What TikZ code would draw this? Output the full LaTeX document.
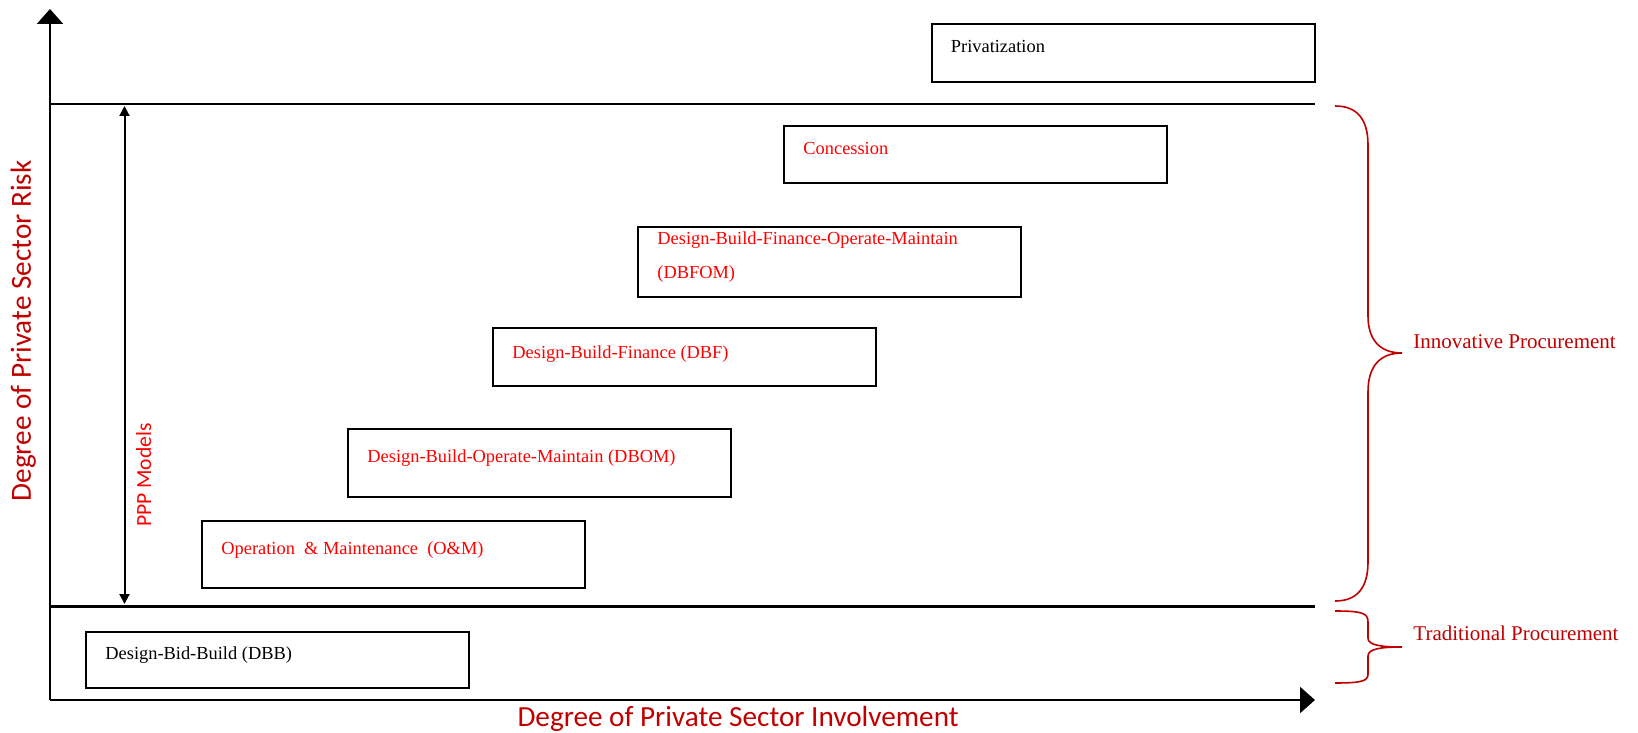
\documentclass[tikz,border=0pt]{standalone}
\usepackage{fontspec}
\setmainfont{Liberation Serif}
\newfontfamily\axisfont{Carlito}
\usetikzlibrary{arrows.meta}
\definecolor{darkred}{HTML}{C00000}
\definecolor{brightred}{HTML}{FF0000}
\begin{document}
\begin{tikzpicture}[x=0.5pt,y=-0.5pt,
  axisline/.style={line width=1.15pt,-{Triangle[length=7.5pt,width=13pt]}},
  bandline/.style={line width=1.15pt},
  pppline/.style={line width=1pt,{Triangle[length=5pt,width=5pt]}-{Triangle[length=5pt,width=5pt]}},
  modelbox/.style={draw,line width=1pt,rectangle,inner sep=0pt,anchor=north west,
    minimum width=191.5pt},
  modeltext/.style={anchor=base west,inner sep=0pt,font=\fontsize{9.2pt}{17pt}\selectfont},
  redtext/.style={modeltext,text=brightred},
  bracepath/.style={draw=darkred,line width=0.8pt},
  bracetext/.style={anchor=base west,inner sep=0pt,text=darkred,font=\fontsize{10.5pt}{12pt}\selectfont},
  axislabel/.style={inner sep=0pt,anchor=base,text=darkred,font=\axisfont\fontsize{14.6pt}{16pt}\selectfont},
  ppplabel/.style={inner sep=0pt,anchor=base,text=brightred,font=\axisfont\fontsize{10.8pt}{12pt}\selectfont}]

\useasboundingbox (0,0) rectangle (1638,733);

% axes and band boundaries
\coordinate (O) at (50,700);
\coordinate (ytip) at (50,9);
\coordinate (xtip) at (1315,700);
\coordinate (topL) at (50,104);
\coordinate (topR) at (1315,104);
\coordinate (midL) at (50,606.5);
\coordinate (midR) at (1315,606.5);
\draw[axisline] (O) -- (ytip);
\draw[axisline] (O) -- (xtip);
\draw[bandline] (topL) -- (topR);
\draw[bandline] (midL) -- (midR);

% PPP span arrow
\coordinate (pppTop) at (124.5,106);
\coordinate (pppBot) at (124.5,604);
\draw[pppline] (pppTop) -- (pppBot);
\node[ppplabel,rotate=90] (ppp) at (151,475) {PPP Models};

% axis titles
\node[axislabel,rotate=90] (risk) at (31,331) {Degree of Private Sector Risk};
\node[axislabel] (involve) at (738,726.5) {Degree of Private Sector Involvement};

% procurement models
\node[modelbox,minimum height=28.75pt] (priv) at (930.5,23.5) {};
\node[modeltext] (privT) at ([shift={(20,29.4)}]priv.north west) {Privatization};

\node[modelbox,minimum height=28.5pt] (conc) at (783,125) {};
\node[redtext] (concT) at ([shift={(20,29.3)}]conc.north west) {Concession};

% two-line label: the base anchor sits on the last line
\node[modelbox,minimum height=34.75pt] (dbfom) at (637,226) {};
\node[redtext,align=left] (dbfomT) at ([shift={(20,52.8)}]dbfom.north west) {Design-Build-Finance-Operate-Maintain\\(DBFOM)};

\node[modelbox,minimum height=28.75pt] (dbf) at (492,327) {};
\node[redtext] (dbfT) at ([shift={(20,31)}]dbf.north west) {Design-Build-Finance (DBF)};

\node[modelbox,minimum height=34pt] (dbom) at (347,428) {};
\node[redtext] (dbomT) at ([shift={(20,34.7)}]dbom.north west) {Design-Build-Operate-Maintain (DBOM)};

\node[modelbox,minimum height=33.3pt] (om) at (201,520) {};
\node[redtext] (omT) at ([shift={(20,34)}]om.north west) {Operation \ \& Maintenance \ (O\&M)};

\node[modelbox,minimum height=28.2pt] (dbb) at (85,631) {};
\node[modeltext] (dbbT) at ([shift={(20,28)}]dbb.north west) {Design-Bid-Build (DBB)};

% braces
\coordinate (b1top) at (1335,106);
\coordinate (b1tip) at (1402,353);
\coordinate (b1bot) at (1335,601);
\draw[bracepath] (b1top) .. controls (1356,106) and (1368,118) .. (1368,145)
  -- (1368,316) .. controls (1368,340) and (1380,353) .. (b1tip)
  .. controls (1380,353) and (1368,366) .. (1368,392)
  -- (1368,562) .. controls (1368,589) and (1356,601) .. (b1bot);
\node[bracetext] (innov) at (1413,348) {Innovative Procurement};

\coordinate (b2top) at (1335,611);
\coordinate (b2tip) at (1402,647);
\coordinate (b2bot) at (1335,683);
\draw[bracepath] (b2top) .. controls (1362,611) and (1368,613) .. (1368,622)
  -- (1368,638) .. controls (1368,645) and (1380,647) .. (b2tip)
  .. controls (1380,647) and (1368,649) .. (1368,656)
  -- (1368,674) .. controls (1368,681) and (1362,683) .. (b2bot);
\node[bracetext] (trad) at (1413,640) {Traditional Procurement};

\end{tikzpicture}
\end{document}
